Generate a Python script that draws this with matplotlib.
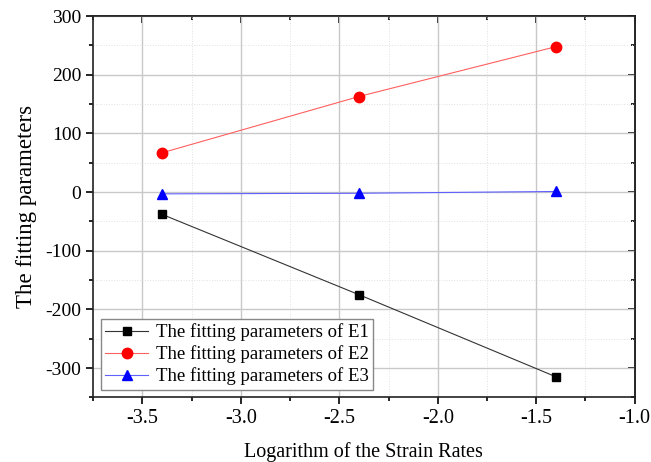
import numpy as np
import matplotlib.pyplot as plt
from matplotlib.ticker import MultipleLocator

plt.rcParams['font.family'] = ['Liberation Serif', 'DejaVu Serif']
plt.rcParams['axes.unicode_minus'] = False

# log strain rates and fitted parameters
log_rates = [-3.4, -2.4, -1.4]
e1_params = [-38, -175, -315]
e2_params = [67, 163, 248]
e3_params = [-3, -2, 1]

fig, ax = plt.subplots(figsize=(6.51, 4.62), dpi=100)
fig.subplots_adjust(left=0.143, right=0.975, top=0.965, bottom=0.14)

ax.plot(log_rates, e1_params, color='#333333', lw=0.8, marker='s', ms=6,
        mfc='black', mec='black', label='The fitting parameters of E1')
ax.plot(log_rates, e2_params, color='#ff6060', lw=0.8, marker='o', ms=7.5,
        mfc='red', mec='red', label='The fitting parameters of E2')
ax.plot(log_rates, e3_params, color='#6060ff', lw=0.8, marker='^', ms=7.5,
        mfc='blue', mec='blue', label='The fitting parameters of E3')

ax.set_xlim(-3.75, -1.0)
ax.set_ylim(-350, 300)
ax.xaxis.set_major_locator(MultipleLocator(0.5))
ax.xaxis.set_minor_locator(MultipleLocator(0.25))
ax.yaxis.set_major_locator(MultipleLocator(100))
ax.yaxis.set_minor_locator(MultipleLocator(50))

ax.grid(which='major', color='#c8c8c8', lw=1.0)
ax.grid(which='minor', color='#e0e0e0', lw=0.7, ls=':')
ax.set_axisbelow(True)

ax.tick_params(which='both', direction='out', width=1.2, labelsize=14)
ax.tick_params(axis='x', labelsize=14.5)
ax.tick_params(which='major', length=5)
ax.tick_params(which='minor', length=3)
# mirrored ticks on top and right, pointing inward
secx = ax.secondary_xaxis('top')
secx.xaxis.set_major_locator(MultipleLocator(0.5))
secx.xaxis.set_minor_locator(MultipleLocator(0.25))
secx.tick_params(which='both', direction='in', width=1.2, labeltop=False)
secx.tick_params(which='major', length=5)
secx.tick_params(which='minor', length=3)
secy = ax.secondary_yaxis('right')
secy.yaxis.set_major_locator(MultipleLocator(100))
secy.yaxis.set_minor_locator(MultipleLocator(50))
secy.tick_params(which='both', direction='in', width=1.2, labelright=False)
secy.tick_params(which='major', length=5)
secy.tick_params(which='minor', length=3)

for spine in list(ax.spines.values()) + [secx.spines['top'], secy.spines['right']]:
    spine.set_linewidth(1.2)
    spine.set_color('#222222')

ax.set_xlabel('Logarithm of the Strain Rates', fontsize=14.5, labelpad=10)
ax.set_ylabel('The fitting parameters', fontsize=16.5, labelpad=6)

leg = ax.legend(loc='lower left', fontsize=13.5, fancybox=False, framealpha=1,
                edgecolor='#888888', handlelength=2.3, borderpad=0.25,
                labelspacing=0.22, handletextpad=0.4, borderaxespad=0.4)
leg.get_frame().set_linewidth(1.0)

fig.savefig('out.png', dpi=100)
